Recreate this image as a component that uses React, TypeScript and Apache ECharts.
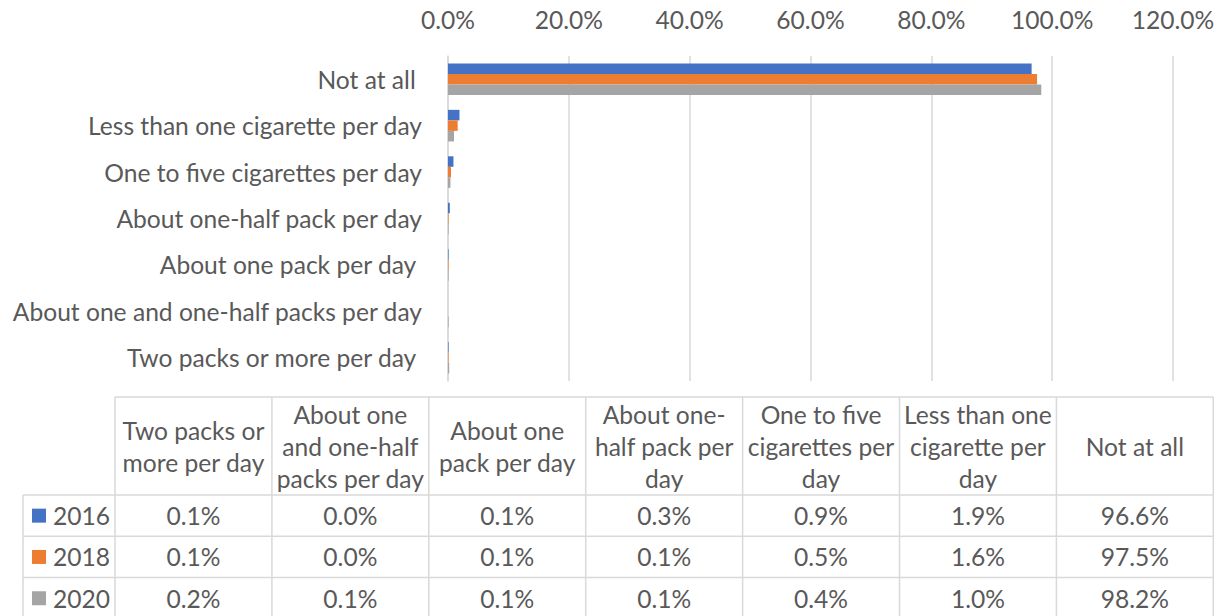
import React, { useEffect, useRef } from "react";
import * as echarts from "echarts";

const categories = [
  "Two packs or more per day",
  "About one and one-half packs per day",
  "About one pack per day",
  "About one-half pack per day",
  "One to five cigarettes per day",
  "Less than one cigarette per day",
  "Not at all",
];
const axisLabels = [
  "Two packs or more per day ",
  "About one and one-half packs per day",
  "About one pack per day ",
  "About one-half pack per day",
  "One to five cigarettes per day",
  "Less than one cigarette per day",
  "Not at all ",
];
const tableHeaders = [
  "Two packs or\nmore per day",
  "About one\nand one-half\npacks per day",
  "About one\npack per day",
  "About one-\nhalf pack per\nday",
  "One to five\ncigarettes per\nday",
  "Less than one\ncigarette per\nday",
  "Not at all",
];
const years = ["2016", "2018", "2020"];
const values2016 = [0.1, 0.0, 0.1, 0.3, 0.9, 1.9, 96.6];
const values2018 = [0.1, 0.0, 0.1, 0.1, 0.5, 1.6, 97.5];
const values2020 = [0.2, 0.1, 0.1, 0.1, 0.4, 1.0, 98.2];
const seriesValues = [values2016, values2018, values2020];
const colors = ["#4472C4", "#ED7D31", "#A5A5A5"];
const xTicks = [0, 20, 40, 60, 80, 100, 120];

const FONT = "Lato";
const FS = 24.6;
const TXT = "#595959";
const LINE = "#d9d9d9";

export default function App() {
  const ref = useRef<HTMLDivElement>(null);
  useEffect(() => {
    document.body.style.margin = "0";
    const chart = echarts.init(ref.current!, null, { renderer: "svg" });

    const colX0 = 115;
    const colW = 156.9;
    const rowHdrX = 23;
    const hdrTop = 397;
    const hdrBot = 495;
    const rowH = 41.3;
    const nCols = categories.length;
    const tableRight = colX0 + colW * nCols;
    const tableBottom = hdrBot + rowH * years.length;

    const g: any[] = [];
    const ln = (x1: number, y1: number, x2: number, y2: number) =>
      g.push({
        type: "line",
        shape: { x1, y1, x2, y2 },
        style: { stroke: LINE, lineWidth: 1.5 },
        silent: true,
      });
    ln(colX0, hdrTop, tableRight, hdrTop);
    for (let i = 0; i <= nCols; i++) {
      const x = colX0 + colW * i;
      ln(x, hdrTop, x, tableBottom);
    }
    ln(rowHdrX, hdrBot, rowHdrX, tableBottom);
    for (let r = 0; r <= years.length; r++) {
      const y = hdrBot + rowH * r;
      ln(rowHdrX, y, tableRight, y);
    }
    const txt = (x: number, y: number, text: string, align = "center") =>
      g.push({
        type: "text",
        x,
        y,
        silent: true,
        style: {
          text,
          fill: TXT,
          fontFamily: FONT,
          fontSize: FS,
          lineHeight: 32,
          align,
          verticalAlign: "middle",
          textAlign: align,
          textVerticalAlign: "middle",
        },
      });
    tableHeaders.forEach((h, i) => {
      txt(colX0 + colW * (i + 0.5), (hdrTop + hdrBot) / 2, h);
    });
    years.forEach((yr, r) => {
      const cy = hdrBot + rowH * (r + 0.5);
      g.push({
        type: "rect",
        shape: { x: 32, y: cy - 7, width: 14, height: 14 },
        style: { fill: colors[r] },
        silent: true,
      });
      txt(53, cy, yr, "left");
      seriesValues[r].forEach((v, i) => {
        txt(colX0 + colW * (i + 0.5), cy, v.toFixed(1) + "%");
      });
    });

    chart.setOption({
      animation: false,
      textStyle: { fontFamily: FONT },
      grid: { left: 448, right: 48, top: 56, bottom: 235, containLabel: false },
      xAxis: {
        type: "value",
        position: "top",
        min: xTicks[0],
        max: xTicks[xTicks.length - 1],
        interval: xTicks[1] - xTicks[0],
        axisLine: { show: false },
        axisTick: { show: false },
        splitLine: { show: true, lineStyle: { color: LINE, width: 1.5 } },
        axisLabel: {
          color: TXT,
          fontFamily: FONT,
          fontSize: FS,
          margin: 24,
          formatter: (v: number) => v.toFixed(1) + "%",
        },
      },
      yAxis: {
        type: "category",
        data: axisLabels,
        axisLine: { show: true, lineStyle: { color: LINE, width: 1.5 } },
        axisTick: { show: false },
        axisLabel: { color: TXT, fontFamily: FONT, fontSize: FS, margin: 26 },
      },
      series: years.map((yr, r) => ({
        name: yr,
        type: "bar",
        data: seriesValues[r],
        itemStyle: { color: colors[r] },
        barGap: "0%",
        barCategoryGap: "32%",
      })),
      graphic: g,
    });
    return () => chart.dispose();
  }, []);
  return <div ref={ref} style={{ width: 1221, height: 616 }} />;
}
